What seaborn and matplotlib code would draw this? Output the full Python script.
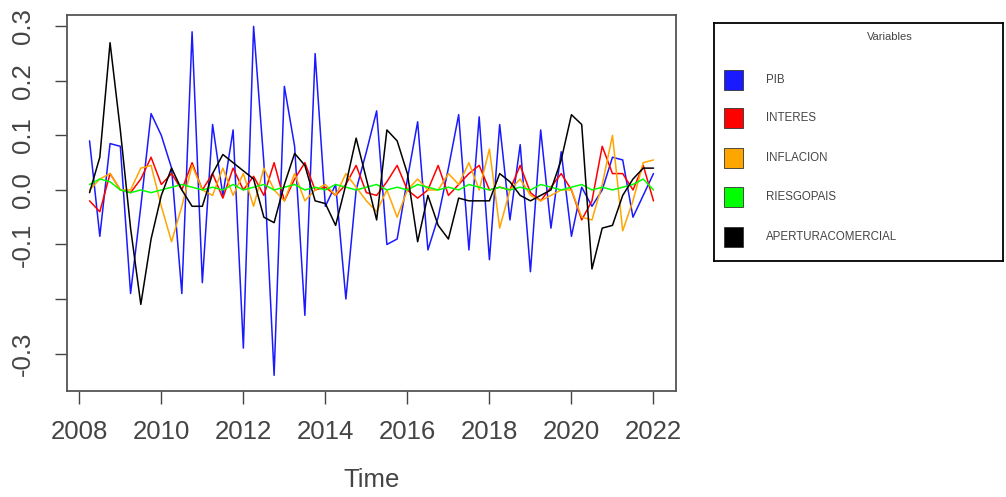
import numpy as np
import pandas as pd
import matplotlib
matplotlib.use("Agg")
import matplotlib.pyplot as plt
from matplotlib.patches import Rectangle
import seaborn as sns

# quarterly series 2008Q2 .. 2022Q1
start_year = 2008.25
n_obs = 56

PIB = [0.09, -0.085, 0.085, 0.08, -0.19, -0.03, 0.14, 0.10, 0.04, -0.19,
       0.29, -0.17, 0.12, -0.01, 0.11, -0.29, 0.30, 0.05, -0.34, 0.19,
       0.08, -0.23, 0.25, -0.03, 0.01, -0.20, 0.0, 0.07, 0.145, -0.10,
       -0.09, 0.02, 0.125, -0.11, -0.05, 0.04, 0.138, -0.11, 0.134, -0.128,
       0.12, -0.055, 0.083, -0.15, 0.11, -0.07, 0.07, -0.085, 0.005, -0.03,
       0.0, 0.06, 0.055, -0.05, -0.01, 0.03]
INTERES = [-0.02, -0.04, 0.03, 0.0, -0.005, 0.02, 0.06, 0.01, 0.03, 0.0,
           0.05, 0.0, 0.03, -0.015, 0.04, 0.0, 0.025, -0.01, 0.05, -0.02,
           0.02, 0.05, 0.0, 0.005, -0.01, 0.01, 0.045, -0.005, -0.01, 0.015,
           0.045, 0.0, -0.015, 0.0, 0.045, -0.01, 0.01, 0.03, 0.045, 0.0,
           0.005, 0.0, 0.045, -0.005, -0.02, 0.005, 0.03, 0.0, -0.055, -0.02,
           0.08, 0.03, 0.03, 0.0, 0.045, -0.02]
INFLACION = [0.0, 0.02, 0.03, 0.0, 0.0, 0.04, 0.045, -0.03, -0.095, -0.03,
             0.045, 0.0, -0.01, 0.04, -0.01, 0.03, -0.03, 0.04, 0.0, -0.02,
             0.03, -0.02, 0.0, 0.01, -0.01, 0.03, 0.005, -0.02, -0.04, 0.0,
             -0.05, 0.0, 0.02, 0.0, 0.0, 0.03, 0.01, 0.05, 0.0, 0.075,
             -0.07, 0.0, 0.02, -0.01, -0.02, -0.01, 0.0, 0.0, -0.05, -0.055,
             0.01, 0.10, -0.075, -0.02, 0.05, 0.055]
RIESGOPAIS = [0.01, 0.02, 0.015, 0.0, -0.005, 0.0, -0.005, 0.0, 0.005, 0.01,
              0.005, 0.0, 0.005, 0.0, 0.01, 0.0, 0.005, 0.01, 0.0, 0.005,
              0.01, 0.0, 0.005, 0.0, 0.01, 0.005, 0.0, 0.005, 0.01, 0.0,
              0.005, 0.0, 0.01, 0.005, 0.0, 0.005, 0.0, 0.01, 0.005, 0.0,
              0.005, 0.0, 0.005, 0.0, 0.01, 0.005, 0.0, 0.005, 0.01, 0.0,
              0.005, 0.0, 0.005, 0.01, 0.02, 0.0]
APERTURACOMERCIAL = [-0.005, 0.06, 0.27, 0.11, -0.07, -0.21, -0.09, -0.01, 0.04, 0.0,
                     -0.03, -0.03, 0.03, 0.065, 0.05, 0.035, 0.02, -0.05, -0.06, 0.01,
                     0.067, 0.045, -0.02, -0.025, -0.065, 0.01, 0.095, 0.02, -0.055, 0.11,
                     0.09, 0.03, -0.095, -0.01, -0.065, -0.09, -0.015, -0.02, -0.02, -0.02,
                     0.03, 0.015, -0.01, -0.02, -0.01, 0.0, 0.055, 0.138, 0.12, -0.145,
                     -0.07, -0.065, -0.01, 0.02, 0.04, 0.04]

series_names = ["PIB", "INTERES", "INFLACION", "RIESGOPAIS", "APERTURACOMERCIAL"]
series_values = [PIB, INTERES, INFLACION, RIESGOPAIS, APERTURACOMERCIAL]
series_colors = ["#1a1aff", "#FF0000", "#FFA500", "#00FF00", "#000000"]

x_ticks = [2008, 2010, 2012, 2014, 2016, 2018, 2020, 2022]
y_ticks = [-0.3, -0.2, -0.1, 0.0, 0.1, 0.2, 0.3]
y_tick_labels = ["-0.3", "", "-0.1", "0.0", "0.1", "0.2", "0.3"]

time = start_year + 0.25 * np.arange(n_obs)
df = pd.concat([pd.DataFrame({"Time": time, "value": v, "variable": n})
                for n, v in zip(series_names, series_values)], ignore_index=True)

sns.set_style("white")
plt.rcParams["font.family"] = ["Liberation Sans", "DejaVu Sans"]

fig = plt.figure(figsize=(10.06, 4.97), dpi=100)
ax = fig.add_axes([0.0666, 0.213, 0.6054, 0.757])

sns.lineplot(data=df, x="Time", y="value", hue="variable", hue_order=series_names,
             palette=dict(zip(series_names, series_colors)), legend=False,
             linewidth=1.1, ax=ax, estimator=None)

ax.set_xlim(2007.7, 2022.55)
ax.set_ylim(-0.369, 0.321)
ax.set_xticks(x_ticks)
ax.set_xticklabels([str(t) for t in x_ticks], fontsize=18.5, color="#444444")
ax.set_yticks(y_ticks)
ax.set_yticklabels(y_tick_labels, fontsize=18.5, color="#444444", rotation=90, va="center")
ax.tick_params(axis="both", direction="out", length=9, width=1.0, color="#444444",
               bottom=True, left=True)
ax.tick_params(axis="x", pad=12)
ax.tick_params(axis="y", pad=14)
ax.set_xlabel("Time", fontsize=18.5, color="#444444", labelpad=17)
ax.set_ylabel("")
for s in ax.spines.values():
    s.set_color("#555555")
    s.set_linewidth(1.3)

# legend box
lax = fig.add_axes([0.7097, 0.4748, 0.2873, 0.479])
lax.set_xlim(0, 289)
lax.set_ylim(238, 0)
lax.set_xticks([])
lax.set_yticks([])
for s in lax.spines.values():
    s.set_color("black")
    s.set_linewidth(1.3)
lax.text(176, 14, "Variables", fontsize=8, ha="center", va="center", color="#444444")
row_y = [57, 95, 135, 174, 214]
for name, col, yy in zip(series_names, series_colors, row_y):
    lax.add_patch(Rectangle((10, yy - 10), 19, 20, facecolor=col, edgecolor="#333333", lw=0.6))
    lax.text(52, yy, name, fontsize=8.3, ha="left", va="center", color="#444444")

fig.savefig("out.png", dpi=100)
